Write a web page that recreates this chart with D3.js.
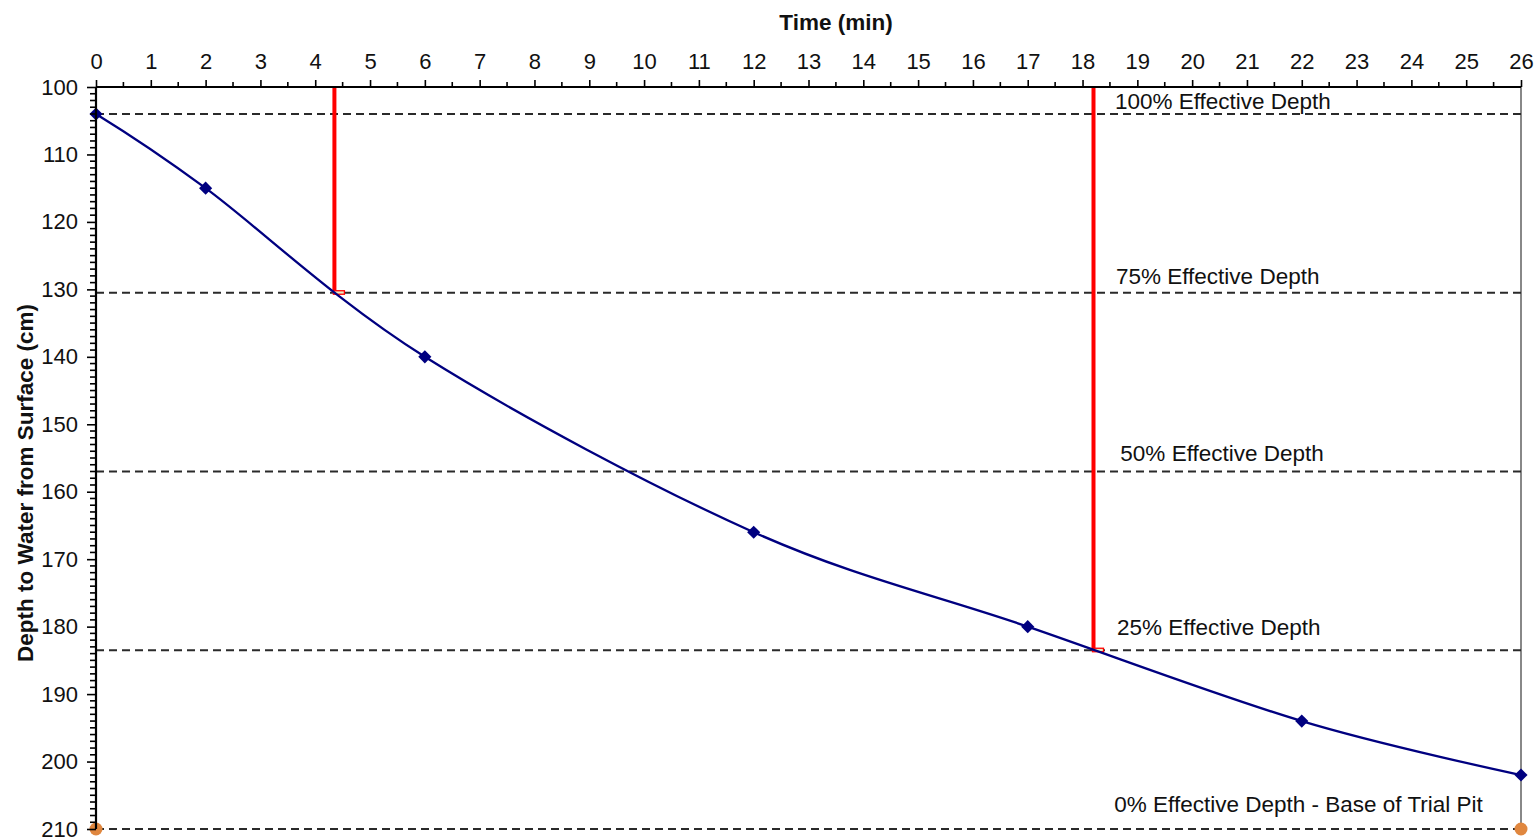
<!DOCTYPE html>
<html><head><meta charset="utf-8">
<script src="https://cdn.jsdelivr.net/npm/d3@7"></script>
<style>body{margin:0;background:#fff;}svg{display:block;font-family:"Liberation Sans",Arial,sans-serif;}</style>
</head><body>
<svg id="c" width="1540" height="840"></svg>
<script>
const timeMin = [0, 2, 6, 12, 17, 22, 26];
const depthCm = [104, 115, 140, 166, 180, 194, 202];
const baseTimes = [0, 26];
const baseDepths = [210, 210];
const levelDepths = [104, 130.5, 157, 183.5, 210];
const levelLabels = ["100% Effective Depth", "75% Effective Depth", "50% Effective Depth", "25% Effective Depth", "0% Effective Depth - Base of Trial Pit"];
const levelLabelX = [18.59, 18.61, 18.69, 18.63, 18.58];
const levelLabelDepth = [103.2, 129.2, 155.4, 181.2, 207.5];
const markerTimes = [4.35, 18.2];
const markerDepths = [130.5, 183.5];
const xTicks = d3.range(0, 27, 1);
const yTicks = d3.range(100, 211, 10);

const svg = d3.select("#c");
const L = 96, R = 1521, T = 87, B = 829;
const FONT = "Liberation Sans, Arial, sans-serif";
const x = d3.scaleLinear().domain([0, 26]).range([L, R]);
const y = d3.scaleLinear().domain([100, 210]).range([T, B]);

// right border
svg.append("line").attr("x1", R).attr("x2", R).attr("y1", T).attr("y2", B).attr("stroke", "#888").attr("stroke-width", 2);

// dashed level lines
svg.append("g").selectAll("line").data(levelDepths).join("line")
  .attr("x1", L).attr("x2", R).attr("y1", d => y(d)).attr("y2", d => y(d))
  .attr("stroke", "#2a2a2a").attr("stroke-width", 2.2).attr("stroke-dasharray", "8,5");

// level labels
svg.append("g").selectAll("text").data(levelLabels).join("text")
  .attr("x", (d, i) => x(levelLabelX[i])).attr("y", (d, i) => y(levelLabelDepth[i]))
  .attr("font-size", 22.5).attr("fill", "#111").text(d => d);

// red marker lines
markerTimes.forEach((t, i) => {
  svg.append("line").attr("x1", x(t)).attr("x2", x(t)).attr("y1", y(100)).attr("y2", y(markerDepths[i]))
    .attr("stroke", "#ff0000").attr("stroke-width", 4);
  svg.append("rect").attr("x", x(t) - 1).attr("y", y(markerDepths[i]) - 2).attr("width", 11).attr("height", 3.5)
    .attr("fill", "#e8f0c8").attr("stroke", "#ff0000").attr("stroke-width", 1.3);
});

// data line
const pts = timeMin.map((t, i) => [t, depthCm[i]]);
svg.append("path").datum(pts)
  .attr("d", d3.line().x(d => x(d[0])).y(d => y(d[1])).curve(d3.curveCatmullRom.alpha(0)))
  .attr("fill", "none").attr("stroke", "#000080").attr("stroke-width", 2.3);
svg.append("g").selectAll("path").data(pts).join("path")
  .attr("d", d3.symbol(d3.symbolDiamond2, 110)())
  .attr("transform", d => `translate(${x(d[0])},${y(d[1])})`)
  .attr("fill", "#000080");

// orange base points
svg.append("g").selectAll("circle").data(baseTimes).join("circle")
  .attr("cx", d => x(d)).attr("cy", (d, i) => y(baseDepths[i])).attr("r", 6.5)
  .attr("fill", "#e0873f");

// top axis
const gx = svg.append("g").attr("transform", `translate(0,${T})`)
  .call(d3.axisTop(x).tickValues(xTicks).tickSize(7).tickPadding(11).tickFormat(d3.format("d")));
gx.append("g").selectAll("line").data(d3.range(0.5, 26, 1)).join("line")
  .attr("x1", d => x(d)).attr("x2", d => x(d)).attr("y1", 0).attr("y2", -5).attr("stroke", "#000").attr("stroke-width", 1.6);
gx.select(".domain").attr("stroke-width", 2.2).attr("d", `M${L},0H${R}`);
gx.selectAll(".tick line").attr("stroke-width", 1.6);
gx.selectAll("text").attr("font-size", 22).attr("fill", "#111").attr("font-family", FONT);

// left axis
const gy = svg.append("g").attr("transform", `translate(${L},0)`)
  .call(d3.axisLeft(y).tickValues(yTicks).tickSize(9).tickPadding(9).tickFormat(d3.format("d")));
gy.append("g").selectAll("line").data(d3.range(100, 211, 1).filter(d => d % 10 !== 0)).join("line")
  .attr("x1", 0).attr("x2", -6).attr("y1", d => y(d)).attr("y2", d => y(d)).attr("stroke", "#000").attr("stroke-width", 1.6);
gy.select(".domain").attr("stroke-width", 2.2).attr("d", `M0,${T}V${B}`);
gy.selectAll(".tick line").attr("stroke-width", 1.6);
gy.selectAll("text").attr("font-size", 22).attr("fill", "#111").attr("font-family", FONT);

// titles
svg.append("text").attr("x", 836).attr("y", 30).attr("text-anchor", "middle")
  .attr("font-size", 22.5).attr("font-weight", "bold").attr("fill", "#111").text("Time (min)");
svg.append("text").attr("transform", "translate(33,483) rotate(-90)").attr("text-anchor", "middle")
  .attr("font-size", 22.5).attr("font-weight", "bold").attr("fill", "#111").text("Depth to Water from Surface (cm)");
</script>
</body></html>
